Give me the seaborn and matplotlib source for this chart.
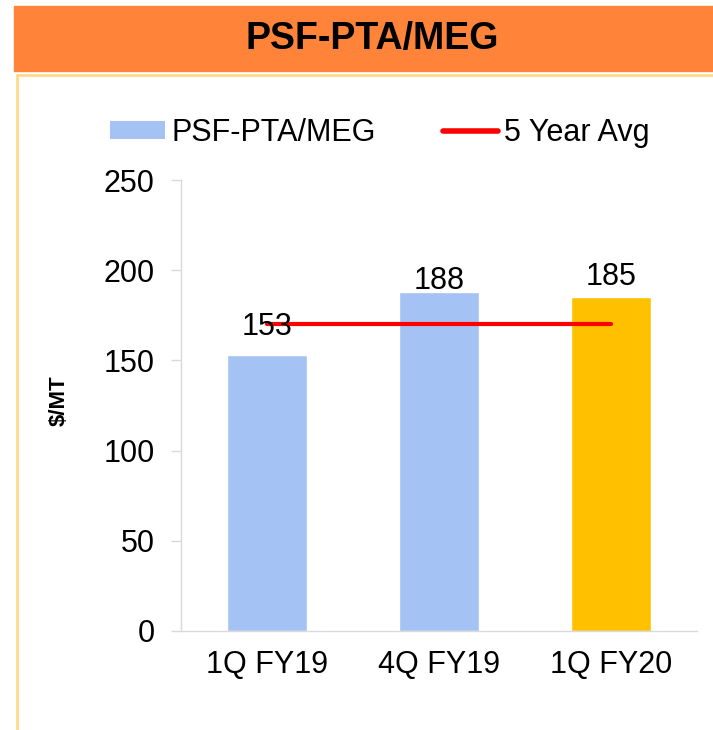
import matplotlib
matplotlib.use("Agg")
import matplotlib.pyplot as plt
import seaborn as sns
from matplotlib.patches import Patch, Rectangle
from matplotlib.lines import Line2D

categories = ["1Q FY19", "4Q FY19", "1Q FY20"]
values = [153, 188, 185]
avg_values = [170, 170, 170]
bar_colors = ["#A4C2F4", "#A4C2F4", "#FFC000"]
label_offsets = [9, -3, 4]  # points, nudges like the source

sns.set_theme(style="white")
plt.rcParams["font.family"] = ["Liberation Sans", "DejaVu Sans"]
plt.rcParams["text.color"] = "black"
plt.rcParams["axes.labelcolor"] = "black"

fig = plt.figure(figsize=(7.13, 7.30), dpi=100)

# orange header band and thin frame around the chart
fig.patches.append(Rectangle((14 / 713, 1 - 71 / 730), 1, 65 / 730,
                             transform=fig.transFigure, color="#FF843A", zorder=0))
fig.lines.append(Line2D([17 / 713, 1], [1 - 75 / 730, 1 - 75 / 730],
                        transform=fig.transFigure, color="#FFD98A", lw=2))
fig.lines.append(Line2D([17 / 713, 17 / 713], [0, 1 - 75 / 730],
                        transform=fig.transFigure, color="#FFD98A", lw=2))
fig.text(0.522, 1 - 39 / 730, "PSF-PTA/MEG", ha="center", va="center",
         fontsize=27, fontweight="bold", color="black",
         family=["Liberation Sans Narrow", "Liberation Sans"])

ax = fig.add_axes([181 / 713, 1 - 631 / 730, 516 / 713, 451 / 730])
sns.barplot(x=categories, y=values, hue=categories, palette=bar_colors,
            legend=False, width=0.465, saturation=1, ax=ax)
ax.plot(range(len(categories)), avg_values, color="#FF0000", lw=3,
        solid_capstyle="round", zorder=3)

for i, (v, off) in enumerate(zip(values, label_offsets)):
    ax.annotate(str(v), (i, v), xytext=(0, off), textcoords="offset points",
                ha="center", va="bottom", fontsize=22, color="black", zorder=4)

ax.set_xlim(-0.5, 2.5)
ax.set_ylim(0, 250)
ax.set_yticks(range(0, 251, 50))
ax.set_xticks([-0.5, 0.5, 1.5, 2.5], minor=True)
ax.tick_params(axis="x", which="major", length=0, pad=14, labelsize=22,
               labelcolor="black")
ax.tick_params(axis="x", which="minor", length=8, color="#D9D9D9", width=1, direction="out")
ax.tick_params(axis="y", length=7, color="#D9D9D9", width=1, direction="out",
               pad=12, labelsize=22, left=True, labelcolor="black")
sns.despine(ax=ax)
for side in ["left", "bottom"]:
    ax.spines[side].set_color("#D9D9D9")
    ax.spines[side].set_linewidth(1)
ax.set_xlabel("")
ax.set_ylabel("$/MT", fontsize=16, fontweight="bold", color="black")
ax.yaxis.set_label_coords(-0.215, 0.51)

handles = [Patch(facecolor="#A4C2F4", edgecolor="none"),
           Line2D([], [], color="#FF0000", lw=4)]
leg = fig.legend(handles, ["PSF-PTA/MEG", "5 Year Avg"], loc="center",
                 bbox_to_anchor=(0.533, 1 - 133 / 730), ncol=2, frameon=False,
                 fontsize=22, handlelength=1.8, handleheight=0.5,
                 handletextpad=0.2, columnspacing=2.2)
for t in leg.get_texts():
    t.set_color("black")

fig.savefig("out.png", dpi=100, facecolor="white")
